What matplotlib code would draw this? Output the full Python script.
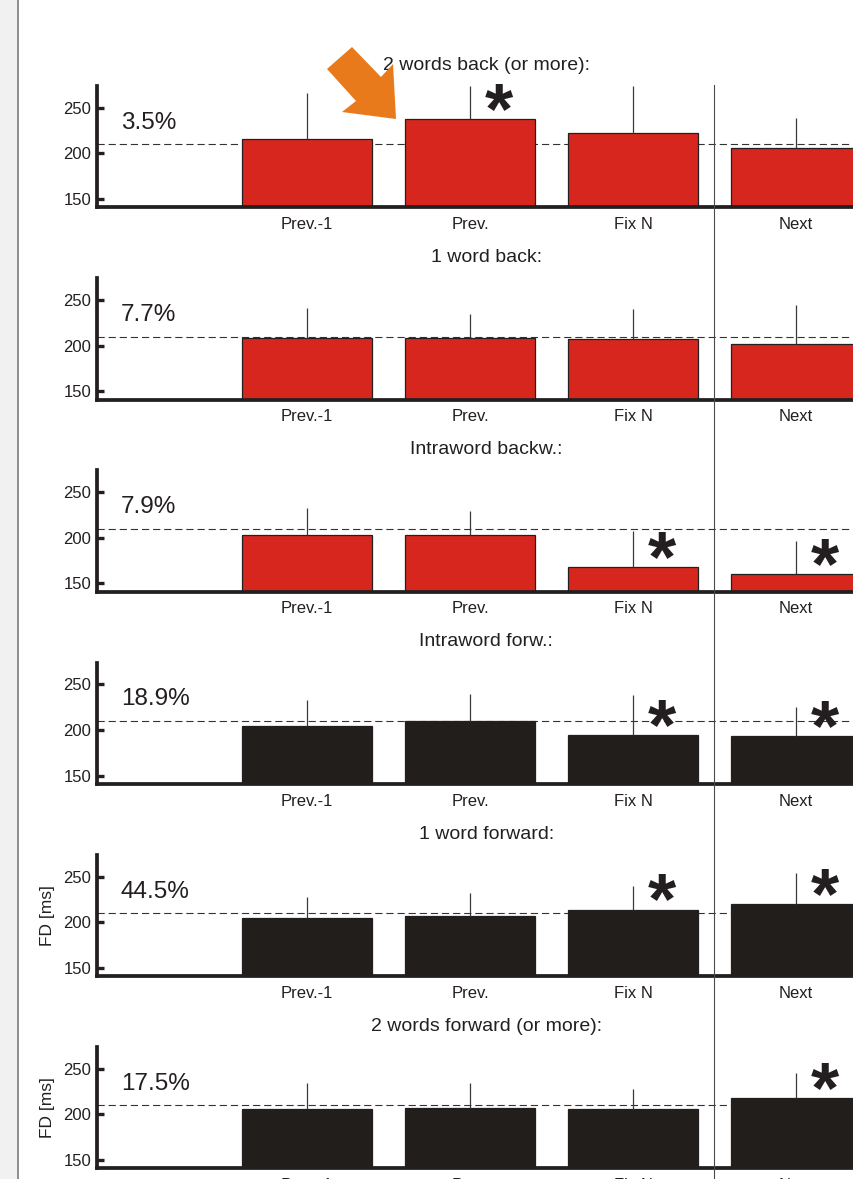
import matplotlib
matplotlib.use("Agg")
import matplotlib.pyplot as plt
import matplotlib.transforms as mtransforms
from matplotlib.patches import Polygon, Rectangle
from matplotlib.lines import Line2D

plt.rcParams['font.family'] = ['Liberation Sans', 'DejaVu Sans']

# --- data: fixation durations (ms) per saccade type ---
categories = ["Prev.-1", "Prev.", "Fix N", "Next"]
titles = ["2 words back (or more):", "1 word back:", "Intraword backw.:",
          "Intraword forw.:", "1 word forward:", "2 words forward (or more):"]
shares = ["3.5%", "7.7%", "7.9%", "18.9%", "44.5%", "17.5%"]
means = [
    [216, 238, 223, 206],
    [208, 208, 207, 202],
    [203, 203, 168, 160],
    [204, 210, 195, 193],
    [205, 207, 214, 220],
    [206, 207, 206, 218],
]
errors = [
    [50, 36, 51, 33],
    [33, 27, 33, 43],
    [30, 27, 40, 37],
    [29, 30, 43, 32],
    [23, 25, 26, 34],
    [29, 28, 22, 28],
]
signif = [
    [0, 1, 0, 0],
    [0, 0, 0, 0],
    [0, 0, 1, 1],
    [0, 0, 1, 1],
    [0, 0, 1, 1],
    [0, 0, 0, 1],
]
regressive = [True, True, True, False, False, False]
mean_fd = 210
ylabel_panels = [4, 5]

RED = '#d7261e'
BLACK = '#221e1b'
INK = '#231f20'

W, H = 854, 1179
fig = plt.figure(figsize=(W / 100, H / 100), dpi=100)

# grey margin strip on the left
fig.patches.append(Rectangle((0, 0), 17.5 / W, 1, transform=fig.transFigure,
                             facecolor='#f1f1f1', edgecolor='none', zorder=0))
fig.add_artist(Line2D([18.5 / W, 18.5 / W], [0, 1], transform=fig.transFigure,
                      color='#7a7a7a', lw=1.2))

x = [1, 2, 3, 4]
left_px, ax_h = 97, 121.3
axes = []
for k in range(6):
    bottom_px = 207.3 + 192.2 * k
    ax = fig.add_axes([left_px / W, 1 - bottom_px / H, 1 - left_px / W, ax_h / H])
    axes.append(ax)
    ax.set_xlim(-0.288, 4.356)
    ax.set_ylim(141, 274)

    ax.axhline(mean_fd, ls=(0, (6.5, 3.5)), lw=0.8, color='#333333', zorder=1)
    color = RED if regressive[k] else BLACK
    ax.bar(x, means[k], width=0.8, bottom=0, color=color, edgecolor=INK,
           lw=0.9, zorder=2)
    tops = [m + e for m, e in zip(means[k], errors[k])]
    ax.vlines(x, means[k], tops, color='#3a3a3a', lw=0.9, zorder=3, clip_on=False)

    for xi, m, s in zip(x, means[k], signif[k]):
        if s:
            ax.annotate("*", (xi, m), xytext=(21, -10), textcoords='offset points',
                        ha='center', va='baseline', fontsize=52,
                        fontweight='bold', color=INK, annotation_clip=False)

    for side in ('top', 'right'):
        ax.spines[side].set_visible(False)
    for side in ('left', 'bottom'):
        ax.spines[side].set_linewidth(2.7)
        ax.spines[side].set_color(INK)

    ax.set_yticks([150, 200, 250])
    ax.tick_params(axis='y', direction='in', length=5, width=2.4, color=INK,
                   labelsize=12, pad=4, labelcolor=INK)
    ax.set_xticks(x, categories)
    ax.tick_params(axis='x', length=0, pad=7, labelsize=12, labelcolor=INK)

    ax.text(-0.141, 227, shares[k], fontsize=17.5, va='baseline', color=INK)
    trans = mtransforms.blended_transform_factory(ax.transData, ax.transAxes)
    ax.text(2.1, 1.17, titles[k], transform=trans, ha='center', va='center',
            fontsize=14, color=INK)

    if k in ylabel_panels:
        ax.set_ylabel("FD [ms]", fontsize=12.5, color=INK, va='center')
        ax.yaxis.set_label_coords(-0.0654, 0.5)

# divider between fixated word and the next one
vtrans = mtransforms.blended_transform_factory(axes[0].transData, fig.transFigure)
fig.add_artist(Line2D([3.5, 3.5], [0, 1 - 85 / H], transform=vtrans,
                      color='#4a4a4a', lw=0.8, zorder=5))

# orange pointer arrow at the top panel
arrow_px = [(327, 69), (352, 47), (381, 77), (393, 64), (396, 119), (342, 112), (356, 101)]
fig.patches.append(Polygon([(px / W, 1 - py / H) for px, py in arrow_px], closed=True,
                           transform=fig.transFigure, facecolor='#e87a1b',
                           edgecolor='none', zorder=10))

fig.savefig("out.png", dpi=100)
